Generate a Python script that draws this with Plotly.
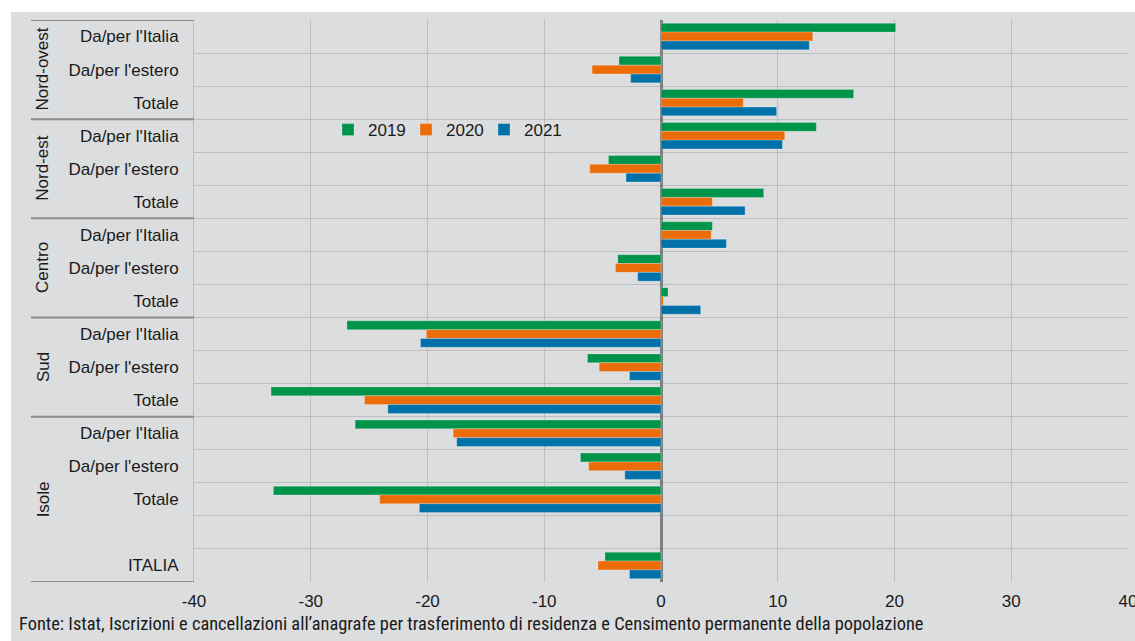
import plotly.graph_objects as go

# ---- data ----
groups = ["Nord-ovest", "Nord-est", "Centro", "Sud", "Isole"]
row_labels = [
    "Da/per l'Italia", "Da/per l'estero", "Totale",
    "Da/per l'Italia", "Da/per l'estero", "Totale",
    "Da/per l'Italia", "Da/per l'estero", "Totale",
    "Da/per l'Italia", "Da/per l'estero", "Totale",
    "Da/per l'Italia", "Da/per l'estero", "Totale",
    "", "ITALIA",
]
years = ["2019", "2020", "2021"]
v2019 = [20.1, -3.6, 16.5, 13.3, -4.5, 8.8, 4.4, -3.7, 0.6, -26.9, -6.3, -33.4, -26.2, -6.9, -33.2, None, -4.8]
v2020 = [13.0, -5.9, 7.05, 10.6, -6.1, 4.4, 4.3, -3.9, 0.2, -20.1, -5.3, -25.4, -17.8, -6.2, -24.1, None, -5.4]
v2021 = [12.7, -2.6, 9.9, 10.4, -3.0, 7.2, 5.6, -2.0, 3.4, -20.6, -2.7, -23.4, -17.5, -3.1, -20.7, None, -2.7]
group_spans = [(0, 2), (3, 5), (6, 8), (9, 11), (12, 16)]
x_ticks = [-40, -30, -20, -10, 0, 10, 20, 30, 40]
source = "Fonte: Istat, Iscrizioni e cancellazioni all\u2019anagrafe per trasferimento di residenza e Censimento permanente della popolazione"

colors = ["#00934A", "#EA6D0A", "#0072A9"]
BG = "#DCDDDF"
GRID = "#BDBEC0"
FS = 17

rows = list(range(len(row_labels)))

fig = go.Figure()
for name, vals, col in zip(years, [v2019, v2020, v2021], colors):
    fig.add_trace(go.Bar(
        x=vals, y=rows, orientation="h", name=name,
        marker=dict(color=col, line=dict(color="rgba(255,255,255,0.25)", width=1)),
    ))

W, H = 1135, 641
# plot area in window pixels
L, R, T, B = 194, 1128, 20, 582
pw, ph = R - L, B - T

def px_x(p):
    return (p - L) / pw

def px_y(p):
    return (B - p) / ph

shapes = [
    dict(type="rect", xref="paper", yref="paper", layer="below",
         x0=px_x(11), x1=px_x(1140), y0=px_y(650), y1=px_y(12),
         fillcolor=BG, line=dict(width=0)),
]
bounds = [-0.5, 2.5, 5.5, 8.5, 11.5, 16.5]
for b in bounds:
    shapes.append(dict(type="line", xref="paper", yref="y",
                       x0=px_x(31), x1=0, y0=b, y1=b,
                       line=dict(color="#8C8C8C", width=2)))

annotations = []
for g, (a, b) in zip(groups, group_spans):
    annotations.append(dict(
        text=g, xref="paper", yref="y", x=px_x(43), y=(a + b) / 2,
        textangle=-90, showarrow=False, xanchor="center", yanchor="middle",
        font=dict(family="Liberation Sans, Arial", size=FS, color="#1a1a1a"),
    ))
annotations.append(dict(
    text=source, xref="paper", yref="paper", x=px_x(17), y=px_y(623),
    xanchor="left", yanchor="middle", showarrow=False,
    font=dict(family="Liberation Sans Narrow, Roboto Condensed, Arial Narrow, sans-serif",
              size=18.4, color="#1a1a1a"),
))

fig.update_layout(
    width=W, height=H, autosize=False,
    margin=dict(l=L, r=W - R, t=T, b=H - B, pad=0, autoexpand=False),
    paper_bgcolor="white", plot_bgcolor=BG,
    barmode="group", bargap=0.2, bargroupgap=0,
    font=dict(family="Liberation Sans, Arial", size=FS, color="#1a1a1a"),
    shapes=shapes, annotations=annotations,
    legend=dict(orientation="h", x=px_x(328), y=px_y(130), xanchor="left", yanchor="middle",
                bgcolor="rgba(0,0,0,0)", font=dict(size=FS), itemwidth=30,
                entrywidth=33, traceorder="normal"),
    showlegend=True,
)
fig.update_xaxes(
    range=[-40, 40], tickvals=x_ticks, ticktext=[str(v) for v in x_ticks],
    showgrid=True, gridcolor=GRID, gridwidth=1,
    zeroline=True, zerolinecolor="#7F7F7F", zerolinewidth=3,
    showline=False, ticks="", ticklabelstandoff=7, ticklabeloverflow="allow",
    automargin=False, tickfont=dict(size=FS),
)
fig.update_yaxes(
    range=[16.5, -0.5], tickmode="array", tickvals=rows, ticktext=row_labels,
    showgrid=False, zeroline=False, ticks="", ticklabelstandoff=11,
    minor=dict(tickmode="linear", tick0=0.5, dtick=1, showgrid=True, gridcolor=GRID, ticks=""),
    showline=True, linecolor=GRID, linewidth=1, automargin=False,
    tickfont=dict(size=FS),
)

fig.write_html(
    "out.html",
    config={"displayModeBar": False},
    post_script="document.body.style.margin='0';document.body.style.overflow='hidden';",
)
